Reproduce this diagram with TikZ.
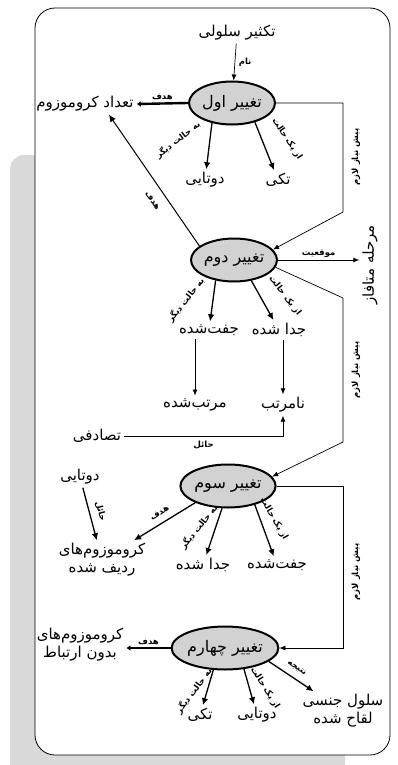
\documentclass[tikz,border=0pt]{standalone}
\usepackage{fontspec}
\usetikzlibrary{positioning,shapes.geometric,arrows.meta}
\newfontfamily\farsifont[Script=Arabic]{DejaVu Sans}
\TeXXeTstate=1
\newcommand{\fatxt}[1]{\beginR #1\endR}

\begin{document}
\begin{tikzpicture}[x=1pt, y=-1pt,
                    stage/.style={ellipse, draw=black, line width=2pt, fill=gray!35, minimum width=86pt, minimum height=43pt, inner sep=0pt, font=\farsifont\fontsize{16}{18}\selectfont},
                    term/.style={font=\farsifont\fontsize{15}{18}\selectfont, align=center, inner sep=3pt},
                    lbl/.style={font=\farsifont\bfseries\fontsize{8.5}{10}\selectfont, inner sep=1.5pt},
                    side/.style={lbl, rotate=90},
                    branch/.style={line width=1.3pt, -{Latex[length=7pt,width=6.5pt]}},
                    goal/.style={line width=2.4pt, -{Latex[length=4pt,width=6pt]}},
                    prereq/.style={line width=0.7pt, -{Latex[length=6pt,width=5pt]}}]
    \useasboundingbox (0,0) rectangle (398,765);
    % frame
    \fill[gray!30, rounded corners=14pt] (10,155) rectangle (345,790);
    \draw[line width=0.8pt, fill=white, rounded corners=20pt] (35,8) rectangle (390,755);
    % nodes
    \node[term]  (T0)    at (237,33)  {\fatxt{تکثیر سلولی}};
    \node[stage] (A1)    at (232,103) {\fatxt{تغییر اول}};
    \node[term]  (Chrom) at (85,104)  {\fatxt{تعداد کروموزوم}};
    \node[term]  (Tw1)   at (205,180) {\fatxt{دوتایی}};
    \node[term]  (Sg1)   at (278,180) {\fatxt{تکی}};
    \node[stage] (A2)    at (234,260) {\fatxt{تغییر دوم}};
    \node[term, rotate=90] (Meta) at (370,265) {\fatxt{مرحله متافاز}};
    \node[term]  (Jf2)   at (209,330) {\fatxt{جفت‌شده}};
    \node[term]  (Jd2)   at (279,330) {\fatxt{جدا شده}};
    \node[term]  (Mr)    at (195,405) {\fatxt{مرتب‌شده}};
    \node[term]  (Nm)    at (283,405) {\fatxt{نامرتب}};
    \node[term]  (Rnd)   at (97,436)  {\fatxt{تصادفی}};
    \node[stage] (A3)    at (228,486) {\fatxt{تغییر سوم}};
    \node[term]  (Tw3)   at (80,477)  {\fatxt{دوتایی}};
    \node[term]  (Chr3)  at (102,560) {\fatxt{کروموزوم‌های}\\\fatxt{ردیف شده}};
    \node[term]  (Jd3)   at (203,565) {\fatxt{جدا شده}};
    \node[term]  (Jf3)   at (277,565) {\fatxt{جفت‌شده}};
    \node[stage] (A4)    at (225,648) {\fatxt{تغییر چهارم}};
    \node[term]  (Ch4)   at (80,645)  {\fatxt{کروموزوم‌های}\\\fatxt{بدون ارتباط}};
    \node[term]  (Sg4)   at (200,715) {\fatxt{تکی}};
    \node[term]  (Tw4)   at (257,715) {\fatxt{دوتایی}};
    \node[term]  (Gam)   at (343,711) {\fatxt{سلول جنسی}\\\fatxt{لقاح شده}};
    % bends of the prerequisite lines
    \coordinate (k1) at (343,212);
    \coordinate (k2) at (343,298);
    \coordinate (k3) at (343,442);
    \coordinate (k4) at (343,648);
    % labels beside the lines
    \node[side] (q1) at (356,157) {\fatxt{پیش نیاز لازم}};
    \node[side] (q2) at (356,370) {\fatxt{پیش نیاز لازم}};
    \node[side] (q3) at (356,572) {\fatxt{پیش نیاز لازم}};
    \node[lbl, rotate=38]  (o1) at (178,140) {\fatxt{به حالت دیگر}};
    \node[lbl, rotate=-56] (s1) at (287,139) {\fatxt{از یک حالت}};
    \node[lbl, rotate=52]  (o2) at (186,300) {\fatxt{به حالت دیگر}};
    \node[lbl, rotate=-52] (s2) at (285,296) {\fatxt{از یک حالت}};
    \node[lbl, rotate=51]  (o3) at (199,527) {\fatxt{به حالت دیگر}};
    \node[lbl, rotate=-60] (s3) at (274,519) {\fatxt{از یک حالت}};
    \node[lbl, rotate=53]  (o4) at (194,691) {\fatxt{به حالت دیگر}};
    \node[lbl, rotate=-58] (s4) at (265,688) {\fatxt{از یک حالت}};
    % lines
    \draw[prereq] (T0) -- (A1) node[lbl, midway, right=2pt] {\fatxt{نام}};
    \draw[goal] (A1.west) -- (Chrom.east) node[lbl, midway, above=1pt] {\fatxt{هدف}};
    \draw[branch] (A1.225) -- (Tw1);
    \draw[branch] (A1.320) -- (Sg1);
    \draw[prereq] (A1.east) -| (k1) -- (A2.15);
    \draw[branch, line width=1pt] (A2.158) -- ([xshift=24pt]Chrom.south) node[lbl, pos=0.4, sloped, below=8pt] {\fatxt{هدف}};
    \draw[prereq] (A2.east) -- (A2.east -| Meta.north) node[lbl, midway, above=1pt] {\fatxt{موقعیت}};
    \draw[branch] (A2.228) -- (Jf2);
    \draw[branch] (A2.310) -- (Jd2);
    \draw[prereq] (A2.350) -- (k2) -- (k3) -- (A3.12);
    \draw[prereq] (Jf2.south -| Mr.north) -- (Mr.north);
    \draw[prereq] (Jd2.south -| Nm.north) -- (Nm.north);
    \draw[prereq] (Rnd.east) -| (Nm.south) node[lbl, pos=0.25, below=3pt] {\fatxt{حائل}};
    \draw[branch] (A3.207) -- (Chr3) node[lbl, midway, sloped, above=5pt] {\fatxt{هدف}};
    \draw[branch] (Tw3) -- (Chr3) node[lbl, midway, sloped, above=5pt] {\fatxt{حائل}};
    \draw[branch] (A3.255) -- (Jd3);
    \draw[branch] (A3.325) -- (Jf3);
    \draw[prereq] (A3.east) -| (k4) -- (A4.east);
    \draw[goal] (A4.west) -- (A4.west -| Ch4.east) node[lbl, midway, above=1pt] {\fatxt{هدف}};
    \draw[branch] (A4.242) -- (Sg4);
    \draw[branch] (A4.312) -- (Tw4);
    \draw[branch] (A4.343) -- (Gam) node[lbl, midway, sloped, above=5pt] {\fatxt{نتیجه}};
\end{tikzpicture}
\end{document}
